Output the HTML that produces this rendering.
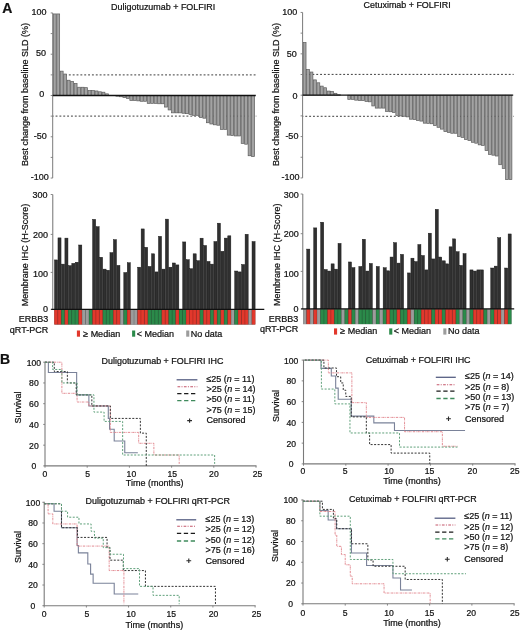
<!DOCTYPE html>
<html><head><meta charset="utf-8"><title>Figure</title>
<style>html,body{margin:0;padding:0;background:#fff;}svg{display:block;filter:blur(0.35px);}svg text{fill:#111;stroke:#111;stroke-width:0.22px;}text{font-family:"Liberation Sans",sans-serif;}</style></head><body>
<svg width="520" height="631" viewBox="0 0 520 631" font-family="Liberation Sans, sans-serif" font-size="9" fill="#2a2a2a">
<rect width="520" height="631" fill="#fff"/>
<text x="2.2" y="13.3" font-size="14" font-weight="bold" fill="#111">A</text>
<text x="0" y="363.5" font-size="14" font-weight="bold" fill="#111">B</text>
<text x="111.1" y="10" font-size="8.95">Duligotuzumab + FOLFIRI</text>
<text x="363.6" y="7.5" font-size="8.93">Cetuximab + FOLFIRI</text>
<text transform="translate(28,94.5) rotate(-90)" text-anchor="middle">Best change from baseline SLD (%)</text>
<text transform="translate(278.6,94.5) rotate(-90)" text-anchor="middle">Best change from baseline SLD (%)</text>
<line x1="52.7" y1="74.9" x2="256.3" y2="74.9" stroke="#333" stroke-width="0.95" stroke-dasharray="1.9,1.95" stroke-dashoffset="-0.75"/>
<line x1="52.7" y1="116.1" x2="256.3" y2="116.1" stroke="#333" stroke-width="0.95" stroke-dasharray="1.9,1.95" stroke-dashoffset="0.97"/>
<rect x="53.3" y="13.94" width="2.88" height="81.56" fill="#a3a3a3" stroke="#5c5c5c" stroke-width="0.7"/>
<rect x="56.78" y="13.94" width="2.88" height="81.56" fill="#a3a3a3" stroke="#5c5c5c" stroke-width="0.7"/>
<rect x="60.26" y="71.15" width="2.88" height="24.35" fill="#a3a3a3" stroke="#5c5c5c" stroke-width="0.7"/>
<rect x="63.74" y="74.04" width="2.88" height="21.46" fill="#a3a3a3" stroke="#5c5c5c" stroke-width="0.7"/>
<rect x="67.22" y="80.23" width="2.88" height="15.27" fill="#a3a3a3" stroke="#5c5c5c" stroke-width="0.7"/>
<rect x="70.7" y="81.47" width="2.88" height="14.03" fill="#a3a3a3" stroke="#5c5c5c" stroke-width="0.7"/>
<rect x="74.18" y="83.53" width="2.88" height="11.97" fill="#a3a3a3" stroke="#5c5c5c" stroke-width="0.7"/>
<rect x="77.66" y="87.25" width="2.88" height="8.26" fill="#a3a3a3" stroke="#5c5c5c" stroke-width="0.7"/>
<rect x="81.13" y="87.25" width="2.88" height="8.26" fill="#a3a3a3" stroke="#5c5c5c" stroke-width="0.7"/>
<rect x="84.61" y="87.66" width="2.88" height="7.84" fill="#a3a3a3" stroke="#5c5c5c" stroke-width="0.7"/>
<rect x="88.09" y="90.55" width="2.88" height="4.95" fill="#a3a3a3" stroke="#5c5c5c" stroke-width="0.7"/>
<rect x="91.57" y="90.55" width="2.88" height="4.95" fill="#a3a3a3" stroke="#5c5c5c" stroke-width="0.7"/>
<rect x="95.05" y="90.96" width="2.88" height="4.54" fill="#a3a3a3" stroke="#5c5c5c" stroke-width="0.7"/>
<rect x="98.53" y="91.79" width="2.88" height="3.71" fill="#a3a3a3" stroke="#5c5c5c" stroke-width="0.7"/>
<rect x="102.01" y="92.2" width="2.88" height="3.3" fill="#a3a3a3" stroke="#5c5c5c" stroke-width="0.7"/>
<rect x="105.49" y="93.85" width="2.88" height="1.65" fill="#a3a3a3" stroke="#5c5c5c" stroke-width="0.7"/>
<rect x="115.93" y="95.5" width="2.88" height="0.66" fill="#a3a3a3" stroke="#5c5c5c" stroke-width="0.7"/>
<rect x="119.41" y="95.5" width="2.88" height="1.24" fill="#a3a3a3" stroke="#5c5c5c" stroke-width="0.7"/>
<rect x="122.89" y="95.5" width="2.88" height="2.06" fill="#a3a3a3" stroke="#5c5c5c" stroke-width="0.7"/>
<rect x="126.37" y="95.5" width="2.88" height="2.89" fill="#a3a3a3" stroke="#5c5c5c" stroke-width="0.7"/>
<rect x="129.84" y="95.5" width="2.88" height="4.95" fill="#a3a3a3" stroke="#5c5c5c" stroke-width="0.7"/>
<rect x="133.32" y="95.5" width="2.88" height="4.95" fill="#a3a3a3" stroke="#5c5c5c" stroke-width="0.7"/>
<rect x="136.8" y="95.5" width="2.88" height="5.37" fill="#a3a3a3" stroke="#5c5c5c" stroke-width="0.7"/>
<rect x="140.28" y="95.5" width="2.88" height="5.78" fill="#a3a3a3" stroke="#5c5c5c" stroke-width="0.7"/>
<rect x="143.76" y="95.5" width="2.88" height="5.78" fill="#a3a3a3" stroke="#5c5c5c" stroke-width="0.7"/>
<rect x="147.24" y="95.5" width="2.88" height="7.84" fill="#a3a3a3" stroke="#5c5c5c" stroke-width="0.7"/>
<rect x="150.72" y="95.5" width="2.88" height="7.84" fill="#a3a3a3" stroke="#5c5c5c" stroke-width="0.7"/>
<rect x="154.2" y="95.5" width="2.88" height="7.84" fill="#a3a3a3" stroke="#5c5c5c" stroke-width="0.7"/>
<rect x="157.68" y="95.5" width="2.88" height="8.26" fill="#a3a3a3" stroke="#5c5c5c" stroke-width="0.7"/>
<rect x="161.16" y="95.5" width="2.88" height="8.26" fill="#a3a3a3" stroke="#5c5c5c" stroke-width="0.7"/>
<rect x="164.64" y="95.5" width="2.88" height="11.56" fill="#a3a3a3" stroke="#5c5c5c" stroke-width="0.7"/>
<rect x="168.12" y="95.5" width="2.88" height="14.45" fill="#a3a3a3" stroke="#5c5c5c" stroke-width="0.7"/>
<rect x="171.6" y="95.5" width="2.88" height="17.34" fill="#a3a3a3" stroke="#5c5c5c" stroke-width="0.7"/>
<rect x="175.08" y="95.5" width="2.88" height="17.34" fill="#a3a3a3" stroke="#5c5c5c" stroke-width="0.7"/>
<rect x="178.56" y="95.5" width="2.88" height="17.34" fill="#a3a3a3" stroke="#5c5c5c" stroke-width="0.7"/>
<rect x="182.03" y="95.5" width="2.88" height="17.75" fill="#a3a3a3" stroke="#5c5c5c" stroke-width="0.7"/>
<rect x="185.51" y="95.5" width="2.88" height="18.16" fill="#a3a3a3" stroke="#5c5c5c" stroke-width="0.7"/>
<rect x="188.99" y="95.5" width="2.88" height="18.99" fill="#a3a3a3" stroke="#5c5c5c" stroke-width="0.7"/>
<rect x="192.47" y="95.5" width="2.88" height="19.81" fill="#a3a3a3" stroke="#5c5c5c" stroke-width="0.7"/>
<rect x="195.95" y="95.5" width="2.88" height="19.81" fill="#a3a3a3" stroke="#5c5c5c" stroke-width="0.7"/>
<rect x="199.43" y="95.5" width="2.88" height="22.04" fill="#a3a3a3" stroke="#5c5c5c" stroke-width="0.7"/>
<rect x="202.91" y="95.5" width="2.88" height="22.7" fill="#a3a3a3" stroke="#5c5c5c" stroke-width="0.7"/>
<rect x="206.39" y="95.5" width="2.88" height="27.24" fill="#a3a3a3" stroke="#5c5c5c" stroke-width="0.7"/>
<rect x="209.87" y="95.5" width="2.88" height="28.48" fill="#a3a3a3" stroke="#5c5c5c" stroke-width="0.7"/>
<rect x="213.35" y="95.5" width="2.88" height="29.31" fill="#a3a3a3" stroke="#5c5c5c" stroke-width="0.7"/>
<rect x="216.83" y="95.5" width="2.88" height="29.72" fill="#a3a3a3" stroke="#5c5c5c" stroke-width="0.7"/>
<rect x="220.31" y="95.5" width="2.88" height="33.85" fill="#a3a3a3" stroke="#5c5c5c" stroke-width="0.7"/>
<rect x="223.79" y="95.5" width="2.88" height="33.85" fill="#a3a3a3" stroke="#5c5c5c" stroke-width="0.7"/>
<rect x="227.27" y="95.5" width="2.88" height="39.62" fill="#a3a3a3" stroke="#5c5c5c" stroke-width="0.7"/>
<rect x="230.74" y="95.5" width="2.88" height="40.04" fill="#a3a3a3" stroke="#5c5c5c" stroke-width="0.7"/>
<rect x="234.22" y="95.5" width="2.88" height="40.45" fill="#a3a3a3" stroke="#5c5c5c" stroke-width="0.7"/>
<rect x="237.7" y="95.5" width="2.88" height="40.45" fill="#a3a3a3" stroke="#5c5c5c" stroke-width="0.7"/>
<rect x="241.18" y="95.5" width="2.88" height="47.88" fill="#a3a3a3" stroke="#5c5c5c" stroke-width="0.7"/>
<rect x="244.66" y="95.5" width="2.88" height="48.7" fill="#a3a3a3" stroke="#5c5c5c" stroke-width="0.7"/>
<rect x="248.14" y="95.5" width="2.88" height="60.26" fill="#a3a3a3" stroke="#5c5c5c" stroke-width="0.7"/>
<rect x="251.62" y="95.5" width="2.88" height="61.09" fill="#a3a3a3" stroke="#5c5c5c" stroke-width="0.7"/>
<line x1="52.7" y1="12.95" x2="52.7" y2="178.05" stroke="#7a7a7a" stroke-width="1"/>
<line x1="50.7" y1="12.95" x2="52.7" y2="12.95" stroke="#7a7a7a" stroke-width="0.9"/>
<line x1="50.7" y1="33.59" x2="52.7" y2="33.59" stroke="#7a7a7a" stroke-width="0.9"/>
<line x1="50.7" y1="54.23" x2="52.7" y2="54.23" stroke="#7a7a7a" stroke-width="0.9"/>
<line x1="50.7" y1="74.86" x2="52.7" y2="74.86" stroke="#7a7a7a" stroke-width="0.9"/>
<line x1="50.7" y1="95.5" x2="52.7" y2="95.5" stroke="#7a7a7a" stroke-width="0.9"/>
<line x1="50.7" y1="116.14" x2="52.7" y2="116.14" stroke="#7a7a7a" stroke-width="0.9"/>
<line x1="50.7" y1="136.78" x2="52.7" y2="136.78" stroke="#7a7a7a" stroke-width="0.9"/>
<line x1="50.7" y1="157.41" x2="52.7" y2="157.41" stroke="#7a7a7a" stroke-width="0.9"/>
<line x1="50.7" y1="178.05" x2="52.7" y2="178.05" stroke="#7a7a7a" stroke-width="0.9"/>
<text x="46.5" y="14.7" text-anchor="end">100</text>
<text x="46.1" y="56.1" text-anchor="end">50</text>
<text x="44.2" y="97.2" text-anchor="end">0</text>
<text x="46.8" y="139.2" text-anchor="end">-50</text>
<text x="48.8" y="180.3" text-anchor="end">-100</text>
<line x1="52.7" y1="95.5" x2="255.8" y2="95.5" stroke="#111" stroke-width="1.3"/>
<line x1="302.6" y1="74.4" x2="513.7" y2="74.4" stroke="#333" stroke-width="0.95" stroke-dasharray="1.9,1.95" stroke-dashoffset="1.75"/>
<line x1="302.6" y1="116.3" x2="513.7" y2="116.3" stroke="#333" stroke-width="0.95" stroke-dasharray="1.9,1.95" stroke-dashoffset="1.15"/>
<rect x="303.2" y="42.57" width="2.83" height="52.63" fill="#a3a3a3" stroke="#5c5c5c" stroke-width="0.7"/>
<rect x="306.63" y="69.55" width="2.83" height="25.65" fill="#a3a3a3" stroke="#5c5c5c" stroke-width="0.7"/>
<rect x="310.06" y="72.03" width="2.83" height="23.17" fill="#a3a3a3" stroke="#5c5c5c" stroke-width="0.7"/>
<rect x="313.49" y="79.89" width="2.83" height="15.31" fill="#a3a3a3" stroke="#5c5c5c" stroke-width="0.7"/>
<rect x="316.92" y="82.79" width="2.83" height="12.41" fill="#a3a3a3" stroke="#5c5c5c" stroke-width="0.7"/>
<rect x="320.36" y="86.1" width="2.83" height="9.1" fill="#a3a3a3" stroke="#5c5c5c" stroke-width="0.7"/>
<rect x="323.79" y="87.75" width="2.83" height="7.45" fill="#a3a3a3" stroke="#5c5c5c" stroke-width="0.7"/>
<rect x="327.22" y="91.06" width="2.83" height="4.14" fill="#a3a3a3" stroke="#5c5c5c" stroke-width="0.7"/>
<rect x="330.65" y="91.48" width="2.83" height="3.72" fill="#a3a3a3" stroke="#5c5c5c" stroke-width="0.7"/>
<rect x="334.08" y="93.3" width="2.83" height="1.9" fill="#a3a3a3" stroke="#5c5c5c" stroke-width="0.7"/>
<rect x="337.51" y="94.7" width="2.83" height="0.5" fill="#a3a3a3" stroke="#5c5c5c" stroke-width="0.7"/>
<rect x="347.8" y="95.2" width="2.83" height="4.14" fill="#a3a3a3" stroke="#5c5c5c" stroke-width="0.7"/>
<rect x="351.24" y="95.2" width="2.83" height="4.14" fill="#a3a3a3" stroke="#5c5c5c" stroke-width="0.7"/>
<rect x="354.67" y="95.2" width="2.83" height="4.96" fill="#a3a3a3" stroke="#5c5c5c" stroke-width="0.7"/>
<rect x="358.1" y="95.2" width="2.83" height="5.38" fill="#a3a3a3" stroke="#5c5c5c" stroke-width="0.7"/>
<rect x="361.53" y="95.2" width="2.83" height="5.38" fill="#a3a3a3" stroke="#5c5c5c" stroke-width="0.7"/>
<rect x="364.96" y="95.2" width="2.83" height="6.21" fill="#a3a3a3" stroke="#5c5c5c" stroke-width="0.7"/>
<rect x="368.39" y="95.2" width="2.83" height="6.62" fill="#a3a3a3" stroke="#5c5c5c" stroke-width="0.7"/>
<rect x="371.82" y="95.2" width="2.83" height="10.76" fill="#a3a3a3" stroke="#5c5c5c" stroke-width="0.7"/>
<rect x="375.25" y="95.2" width="2.83" height="12.91" fill="#a3a3a3" stroke="#5c5c5c" stroke-width="0.7"/>
<rect x="378.69" y="95.2" width="2.83" height="12.91" fill="#a3a3a3" stroke="#5c5c5c" stroke-width="0.7"/>
<rect x="382.12" y="95.2" width="2.83" height="12.91" fill="#a3a3a3" stroke="#5c5c5c" stroke-width="0.7"/>
<rect x="385.55" y="95.2" width="2.83" height="16.22" fill="#a3a3a3" stroke="#5c5c5c" stroke-width="0.7"/>
<rect x="388.98" y="95.2" width="2.83" height="16.55" fill="#a3a3a3" stroke="#5c5c5c" stroke-width="0.7"/>
<rect x="392.41" y="95.2" width="2.83" height="17.38" fill="#a3a3a3" stroke="#5c5c5c" stroke-width="0.7"/>
<rect x="395.84" y="95.2" width="2.83" height="20.36" fill="#a3a3a3" stroke="#5c5c5c" stroke-width="0.7"/>
<rect x="399.27" y="95.2" width="2.83" height="20.69" fill="#a3a3a3" stroke="#5c5c5c" stroke-width="0.7"/>
<rect x="402.7" y="95.2" width="2.83" height="21.02" fill="#a3a3a3" stroke="#5c5c5c" stroke-width="0.7"/>
<rect x="406.13" y="95.2" width="2.83" height="21.68" fill="#a3a3a3" stroke="#5c5c5c" stroke-width="0.7"/>
<rect x="409.57" y="95.2" width="2.83" height="24" fill="#a3a3a3" stroke="#5c5c5c" stroke-width="0.7"/>
<rect x="413" y="95.2" width="2.83" height="24.41" fill="#a3a3a3" stroke="#5c5c5c" stroke-width="0.7"/>
<rect x="416.43" y="95.2" width="2.83" height="25.24" fill="#a3a3a3" stroke="#5c5c5c" stroke-width="0.7"/>
<rect x="419.86" y="95.2" width="2.83" height="25.9" fill="#a3a3a3" stroke="#5c5c5c" stroke-width="0.7"/>
<rect x="423.29" y="95.2" width="2.83" height="27.97" fill="#a3a3a3" stroke="#5c5c5c" stroke-width="0.7"/>
<rect x="426.72" y="95.2" width="2.83" height="28.14" fill="#a3a3a3" stroke="#5c5c5c" stroke-width="0.7"/>
<rect x="430.15" y="95.2" width="2.83" height="28.55" fill="#a3a3a3" stroke="#5c5c5c" stroke-width="0.7"/>
<rect x="433.58" y="95.2" width="2.83" height="30.29" fill="#a3a3a3" stroke="#5c5c5c" stroke-width="0.7"/>
<rect x="437.01" y="95.2" width="2.83" height="32.11" fill="#a3a3a3" stroke="#5c5c5c" stroke-width="0.7"/>
<rect x="440.45" y="95.2" width="2.83" height="33.93" fill="#a3a3a3" stroke="#5c5c5c" stroke-width="0.7"/>
<rect x="443.88" y="95.2" width="2.83" height="36.41" fill="#a3a3a3" stroke="#5c5c5c" stroke-width="0.7"/>
<rect x="447.31" y="95.2" width="2.83" height="37.24" fill="#a3a3a3" stroke="#5c5c5c" stroke-width="0.7"/>
<rect x="450.74" y="95.2" width="2.83" height="38.06" fill="#a3a3a3" stroke="#5c5c5c" stroke-width="0.7"/>
<rect x="454.17" y="95.2" width="2.83" height="38.06" fill="#a3a3a3" stroke="#5c5c5c" stroke-width="0.7"/>
<rect x="457.6" y="95.2" width="2.83" height="41.38" fill="#a3a3a3" stroke="#5c5c5c" stroke-width="0.7"/>
<rect x="461.03" y="95.2" width="2.83" height="42.2" fill="#a3a3a3" stroke="#5c5c5c" stroke-width="0.7"/>
<rect x="464.46" y="95.2" width="2.83" height="44.27" fill="#a3a3a3" stroke="#5c5c5c" stroke-width="0.7"/>
<rect x="467.9" y="95.2" width="2.83" height="45.35" fill="#a3a3a3" stroke="#5c5c5c" stroke-width="0.7"/>
<rect x="471.33" y="95.2" width="2.83" height="47.08" fill="#a3a3a3" stroke="#5c5c5c" stroke-width="0.7"/>
<rect x="474.76" y="95.2" width="2.83" height="47.99" fill="#a3a3a3" stroke="#5c5c5c" stroke-width="0.7"/>
<rect x="478.19" y="95.2" width="2.83" height="49.65" fill="#a3a3a3" stroke="#5c5c5c" stroke-width="0.7"/>
<rect x="481.62" y="95.2" width="2.83" height="50.23" fill="#a3a3a3" stroke="#5c5c5c" stroke-width="0.7"/>
<rect x="485.05" y="95.2" width="2.83" height="55.44" fill="#a3a3a3" stroke="#5c5c5c" stroke-width="0.7"/>
<rect x="488.48" y="95.2" width="2.83" height="59.17" fill="#a3a3a3" stroke="#5c5c5c" stroke-width="0.7"/>
<rect x="491.91" y="95.2" width="2.83" height="59.99" fill="#a3a3a3" stroke="#5c5c5c" stroke-width="0.7"/>
<rect x="495.34" y="95.2" width="2.83" height="60.82" fill="#a3a3a3" stroke="#5c5c5c" stroke-width="0.7"/>
<rect x="498.78" y="95.2" width="2.83" height="69.51" fill="#a3a3a3" stroke="#5c5c5c" stroke-width="0.7"/>
<rect x="502.21" y="95.2" width="2.83" height="73.23" fill="#a3a3a3" stroke="#5c5c5c" stroke-width="0.7"/>
<rect x="505.64" y="95.2" width="2.83" height="84.41" fill="#a3a3a3" stroke="#5c5c5c" stroke-width="0.7"/>
<rect x="509.07" y="95.2" width="2.83" height="84.41" fill="#a3a3a3" stroke="#5c5c5c" stroke-width="0.7"/>
<line x1="302.6" y1="12.45" x2="302.6" y2="177.95" stroke="#7a7a7a" stroke-width="1"/>
<line x1="300.6" y1="12.45" x2="302.6" y2="12.45" stroke="#7a7a7a" stroke-width="0.9"/>
<line x1="300.6" y1="33.14" x2="302.6" y2="33.14" stroke="#7a7a7a" stroke-width="0.9"/>
<line x1="300.6" y1="53.83" x2="302.6" y2="53.83" stroke="#7a7a7a" stroke-width="0.9"/>
<line x1="300.6" y1="74.51" x2="302.6" y2="74.51" stroke="#7a7a7a" stroke-width="0.9"/>
<line x1="300.6" y1="95.2" x2="302.6" y2="95.2" stroke="#7a7a7a" stroke-width="0.9"/>
<line x1="300.6" y1="115.89" x2="302.6" y2="115.89" stroke="#7a7a7a" stroke-width="0.9"/>
<line x1="300.6" y1="136.57" x2="302.6" y2="136.57" stroke="#7a7a7a" stroke-width="0.9"/>
<line x1="300.6" y1="157.26" x2="302.6" y2="157.26" stroke="#7a7a7a" stroke-width="0.9"/>
<line x1="300.6" y1="177.95" x2="302.6" y2="177.95" stroke="#7a7a7a" stroke-width="0.9"/>
<text x="297.2" y="14.7" text-anchor="end">100</text>
<text x="296.8" y="56.6" text-anchor="end">50</text>
<text x="297.6" y="98.7" text-anchor="end">0</text>
<text x="298.4" y="139.4" text-anchor="end">-50</text>
<text x="299.5" y="180.3" text-anchor="end">-100</text>
<line x1="302.6" y1="95.2" x2="513.2" y2="95.2" stroke="#111" stroke-width="1.3"/>
<text transform="translate(28,255) rotate(-90)" text-anchor="middle">Membrane IHC (H-Score)</text>
<text transform="translate(280.4,254.7) rotate(-90)" text-anchor="middle">Membrane IHC (H-Score)</text>
<rect x="54.5" y="259.93" width="3.07" height="49.37" fill="#303030" stroke="#141414" stroke-width="0.45"/>
<rect x="57.97" y="237.89" width="3.07" height="71.41" fill="#303030" stroke="#141414" stroke-width="0.45"/>
<rect x="61.43" y="264.14" width="3.07" height="45.16" fill="#303030" stroke="#141414" stroke-width="0.45"/>
<rect x="64.9" y="238.12" width="3.07" height="71.18" fill="#303030" stroke="#141414" stroke-width="0.45"/>
<rect x="68.36" y="265.67" width="3.07" height="43.63" fill="#303030" stroke="#141414" stroke-width="0.45"/>
<rect x="71.83" y="263.38" width="3.07" height="45.92" fill="#303030" stroke="#141414" stroke-width="0.45"/>
<rect x="75.29" y="262.23" width="3.07" height="47.07" fill="#303030" stroke="#141414" stroke-width="0.45"/>
<rect x="78.76" y="245.01" width="3.07" height="64.29" fill="#303030" stroke="#141414" stroke-width="0.45"/>
<rect x="92.62" y="219.37" width="3.07" height="89.93" fill="#303030" stroke="#141414" stroke-width="0.45"/>
<rect x="96.09" y="226.71" width="3.07" height="82.59" fill="#303030" stroke="#141414" stroke-width="0.45"/>
<rect x="99.55" y="257.25" width="3.07" height="52.05" fill="#303030" stroke="#141414" stroke-width="0.45"/>
<rect x="103.02" y="269.12" width="3.07" height="40.18" fill="#303030" stroke="#141414" stroke-width="0.45"/>
<rect x="106.48" y="270.26" width="3.07" height="39.04" fill="#303030" stroke="#141414" stroke-width="0.45"/>
<rect x="109.95" y="252.66" width="3.07" height="56.64" fill="#303030" stroke="#141414" stroke-width="0.45"/>
<rect x="113.41" y="239.65" width="3.07" height="69.65" fill="#303030" stroke="#141414" stroke-width="0.45"/>
<rect x="116.88" y="265.4" width="3.07" height="43.9" fill="#303030" stroke="#141414" stroke-width="0.45"/>
<rect x="123.81" y="272.56" width="3.07" height="36.74" fill="#303030" stroke="#141414" stroke-width="0.45"/>
<rect x="127.28" y="262.76" width="3.07" height="46.54" fill="#303030" stroke="#141414" stroke-width="0.45"/>
<rect x="137.67" y="267.2" width="3.07" height="42.1" fill="#303030" stroke="#141414" stroke-width="0.45"/>
<rect x="141.14" y="228.93" width="3.07" height="80.37" fill="#303030" stroke="#141414" stroke-width="0.45"/>
<rect x="144.6" y="247.3" width="3.07" height="62" fill="#303030" stroke="#141414" stroke-width="0.45"/>
<rect x="148.07" y="266.44" width="3.07" height="42.86" fill="#303030" stroke="#141414" stroke-width="0.45"/>
<rect x="151.53" y="253.81" width="3.07" height="55.49" fill="#303030" stroke="#141414" stroke-width="0.45"/>
<rect x="155" y="271.91" width="3.07" height="37.39" fill="#303030" stroke="#141414" stroke-width="0.45"/>
<rect x="158.47" y="236.36" width="3.07" height="72.94" fill="#303030" stroke="#141414" stroke-width="0.45"/>
<rect x="161.93" y="269.12" width="3.07" height="40.18" fill="#303030" stroke="#141414" stroke-width="0.45"/>
<rect x="165.4" y="219.14" width="3.07" height="90.16" fill="#303030" stroke="#141414" stroke-width="0.45"/>
<rect x="168.86" y="267.2" width="3.07" height="42.1" fill="#303030" stroke="#141414" stroke-width="0.45"/>
<rect x="172.33" y="262.99" width="3.07" height="46.31" fill="#303030" stroke="#141414" stroke-width="0.45"/>
<rect x="175.79" y="264.91" width="3.07" height="44.39" fill="#303030" stroke="#141414" stroke-width="0.45"/>
<rect x="182.72" y="241.94" width="3.07" height="67.36" fill="#303030" stroke="#141414" stroke-width="0.45"/>
<rect x="186.19" y="259.7" width="3.07" height="49.6" fill="#303030" stroke="#141414" stroke-width="0.45"/>
<rect x="189.66" y="268.73" width="3.07" height="40.57" fill="#303030" stroke="#141414" stroke-width="0.45"/>
<rect x="193.12" y="253.81" width="3.07" height="55.49" fill="#303030" stroke="#141414" stroke-width="0.45"/>
<rect x="196.59" y="260.7" width="3.07" height="48.6" fill="#303030" stroke="#141414" stroke-width="0.45"/>
<rect x="200.05" y="238.19" width="3.07" height="71.11" fill="#303030" stroke="#141414" stroke-width="0.45"/>
<rect x="203.52" y="245.5" width="3.07" height="63.8" fill="#303030" stroke="#141414" stroke-width="0.45"/>
<rect x="206.98" y="261.46" width="3.07" height="47.84" fill="#303030" stroke="#141414" stroke-width="0.45"/>
<rect x="210.45" y="264.14" width="3.07" height="45.16" fill="#303030" stroke="#141414" stroke-width="0.45"/>
<rect x="213.91" y="241.56" width="3.07" height="67.74" fill="#303030" stroke="#141414" stroke-width="0.45"/>
<rect x="217.38" y="223.19" width="3.07" height="86.11" fill="#303030" stroke="#141414" stroke-width="0.45"/>
<rect x="220.84" y="251.32" width="3.07" height="57.98" fill="#303030" stroke="#141414" stroke-width="0.45"/>
<rect x="224.31" y="238.12" width="3.07" height="71.18" fill="#303030" stroke="#141414" stroke-width="0.45"/>
<rect x="227.78" y="235.82" width="3.07" height="73.48" fill="#303030" stroke="#141414" stroke-width="0.45"/>
<rect x="234.71" y="271.03" width="3.07" height="38.27" fill="#303030" stroke="#141414" stroke-width="0.45"/>
<rect x="238.17" y="271.91" width="3.07" height="37.39" fill="#303030" stroke="#141414" stroke-width="0.45"/>
<rect x="241.64" y="264.52" width="3.07" height="44.78" fill="#303030" stroke="#141414" stroke-width="0.45"/>
<rect x="245.1" y="234.29" width="3.07" height="75.01" fill="#303030" stroke="#141414" stroke-width="0.45"/>
<rect x="252.03" y="241.56" width="3.07" height="67.74" fill="#303030" stroke="#141414" stroke-width="0.45"/>
<rect x="54.3" y="309.7" width="201" height="14.8" fill="#444"/>
<rect x="54.3" y="309.7" width="3.52" height="14.8" fill="#e2382c"/>
<rect x="57.77" y="309.7" width="3.52" height="14.8" fill="#e2382c"/>
<rect x="61.23" y="309.7" width="3.52" height="14.8" fill="#2b8a4a"/>
<rect x="64.7" y="309.7" width="3.52" height="14.8" fill="#e2382c"/>
<rect x="68.16" y="309.7" width="3.52" height="14.8" fill="#2b8a4a"/>
<rect x="71.63" y="309.7" width="3.52" height="14.8" fill="#2b8a4a"/>
<rect x="75.09" y="309.7" width="3.52" height="14.8" fill="#2b8a4a"/>
<rect x="78.56" y="309.7" width="3.52" height="14.8" fill="#e2382c"/>
<rect x="82.02" y="309.7" width="3.52" height="14.8" fill="#9c9c9c"/>
<rect x="85.49" y="309.7" width="3.52" height="14.8" fill="#9c9c9c"/>
<rect x="88.96" y="309.7" width="3.52" height="14.8" fill="#2b8a4a"/>
<rect x="92.42" y="309.7" width="3.52" height="14.8" fill="#e2382c"/>
<rect x="95.89" y="309.7" width="3.52" height="14.8" fill="#e2382c"/>
<rect x="99.35" y="309.7" width="3.52" height="14.8" fill="#e2382c"/>
<rect x="102.82" y="309.7" width="3.52" height="14.8" fill="#2b8a4a"/>
<rect x="106.28" y="309.7" width="3.52" height="14.8" fill="#2b8a4a"/>
<rect x="109.75" y="309.7" width="3.52" height="14.8" fill="#2b8a4a"/>
<rect x="113.21" y="309.7" width="3.52" height="14.8" fill="#e2382c"/>
<rect x="116.68" y="309.7" width="3.52" height="14.8" fill="#e2382c"/>
<rect x="120.14" y="309.7" width="3.52" height="14.8" fill="#9c9c9c"/>
<rect x="123.61" y="309.7" width="3.52" height="14.8" fill="#2b8a4a"/>
<rect x="127.08" y="309.7" width="3.52" height="14.8" fill="#e2382c"/>
<rect x="130.54" y="309.7" width="3.52" height="14.8" fill="#9c9c9c"/>
<rect x="134.01" y="309.7" width="3.52" height="14.8" fill="#9c9c9c"/>
<rect x="137.47" y="309.7" width="3.52" height="14.8" fill="#e2382c"/>
<rect x="140.94" y="309.7" width="3.52" height="14.8" fill="#e2382c"/>
<rect x="144.4" y="309.7" width="3.52" height="14.8" fill="#e2382c"/>
<rect x="147.87" y="309.7" width="3.52" height="14.8" fill="#2b8a4a"/>
<rect x="151.33" y="309.7" width="3.52" height="14.8" fill="#2b8a4a"/>
<rect x="154.8" y="309.7" width="3.52" height="14.8" fill="#2b8a4a"/>
<rect x="158.27" y="309.7" width="3.52" height="14.8" fill="#2b8a4a"/>
<rect x="161.73" y="309.7" width="3.52" height="14.8" fill="#e2382c"/>
<rect x="165.2" y="309.7" width="3.52" height="14.8" fill="#e2382c"/>
<rect x="168.66" y="309.7" width="3.52" height="14.8" fill="#2b8a4a"/>
<rect x="172.13" y="309.7" width="3.52" height="14.8" fill="#2b8a4a"/>
<rect x="175.59" y="309.7" width="3.52" height="14.8" fill="#e2382c"/>
<rect x="179.06" y="309.7" width="3.52" height="14.8" fill="#2b8a4a"/>
<rect x="182.52" y="309.7" width="3.52" height="14.8" fill="#2b8a4a"/>
<rect x="185.99" y="309.7" width="3.52" height="14.8" fill="#e2382c"/>
<rect x="189.46" y="309.7" width="3.52" height="14.8" fill="#e2382c"/>
<rect x="192.92" y="309.7" width="3.52" height="14.8" fill="#e2382c"/>
<rect x="196.39" y="309.7" width="3.52" height="14.8" fill="#e2382c"/>
<rect x="199.85" y="309.7" width="3.52" height="14.8" fill="#2b8a4a"/>
<rect x="203.32" y="309.7" width="3.52" height="14.8" fill="#e2382c"/>
<rect x="206.78" y="309.7" width="3.52" height="14.8" fill="#e2382c"/>
<rect x="210.25" y="309.7" width="3.52" height="14.8" fill="#2b8a4a"/>
<rect x="213.71" y="309.7" width="3.52" height="14.8" fill="#e2382c"/>
<rect x="217.18" y="309.7" width="3.52" height="14.8" fill="#2b8a4a"/>
<rect x="220.64" y="309.7" width="3.52" height="14.8" fill="#e2382c"/>
<rect x="224.11" y="309.7" width="3.52" height="14.8" fill="#2b8a4a"/>
<rect x="227.58" y="309.7" width="3.52" height="14.8" fill="#e2382c"/>
<rect x="231.04" y="309.7" width="3.52" height="14.8" fill="#9c9c9c"/>
<rect x="234.51" y="309.7" width="3.52" height="14.8" fill="#2b8a4a"/>
<rect x="237.97" y="309.7" width="3.52" height="14.8" fill="#e2382c"/>
<rect x="241.44" y="309.7" width="3.52" height="14.8" fill="#e2382c"/>
<rect x="244.9" y="309.7" width="3.52" height="14.8" fill="#e2382c"/>
<rect x="248.37" y="309.7" width="3.52" height="14.8" fill="#9c9c9c"/>
<rect x="251.83" y="309.7" width="3.52" height="14.8" fill="#e2382c"/>
<line x1="57.77" y1="309.7" x2="57.77" y2="324.5" stroke="#000" stroke-opacity="0.3" stroke-width="0.55"/>
<line x1="61.23" y1="309.7" x2="61.23" y2="324.5" stroke="#000" stroke-opacity="0.3" stroke-width="0.55"/>
<line x1="64.7" y1="309.7" x2="64.7" y2="324.5" stroke="#000" stroke-opacity="0.3" stroke-width="0.55"/>
<line x1="68.16" y1="309.7" x2="68.16" y2="324.5" stroke="#000" stroke-opacity="0.3" stroke-width="0.55"/>
<line x1="71.63" y1="309.7" x2="71.63" y2="324.5" stroke="#000" stroke-opacity="0.3" stroke-width="0.55"/>
<line x1="75.09" y1="309.7" x2="75.09" y2="324.5" stroke="#000" stroke-opacity="0.3" stroke-width="0.55"/>
<line x1="78.56" y1="309.7" x2="78.56" y2="324.5" stroke="#000" stroke-opacity="0.3" stroke-width="0.55"/>
<line x1="82.02" y1="309.7" x2="82.02" y2="324.5" stroke="#000" stroke-opacity="0.3" stroke-width="0.55"/>
<line x1="85.49" y1="309.7" x2="85.49" y2="324.5" stroke="#000" stroke-opacity="0.3" stroke-width="0.55"/>
<line x1="88.96" y1="309.7" x2="88.96" y2="324.5" stroke="#000" stroke-opacity="0.3" stroke-width="0.55"/>
<line x1="92.42" y1="309.7" x2="92.42" y2="324.5" stroke="#000" stroke-opacity="0.3" stroke-width="0.55"/>
<line x1="95.89" y1="309.7" x2="95.89" y2="324.5" stroke="#000" stroke-opacity="0.3" stroke-width="0.55"/>
<line x1="99.35" y1="309.7" x2="99.35" y2="324.5" stroke="#000" stroke-opacity="0.3" stroke-width="0.55"/>
<line x1="102.82" y1="309.7" x2="102.82" y2="324.5" stroke="#000" stroke-opacity="0.3" stroke-width="0.55"/>
<line x1="106.28" y1="309.7" x2="106.28" y2="324.5" stroke="#000" stroke-opacity="0.3" stroke-width="0.55"/>
<line x1="109.75" y1="309.7" x2="109.75" y2="324.5" stroke="#000" stroke-opacity="0.3" stroke-width="0.55"/>
<line x1="113.21" y1="309.7" x2="113.21" y2="324.5" stroke="#000" stroke-opacity="0.3" stroke-width="0.55"/>
<line x1="116.68" y1="309.7" x2="116.68" y2="324.5" stroke="#000" stroke-opacity="0.3" stroke-width="0.55"/>
<line x1="120.14" y1="309.7" x2="120.14" y2="324.5" stroke="#000" stroke-opacity="0.3" stroke-width="0.55"/>
<line x1="123.61" y1="309.7" x2="123.61" y2="324.5" stroke="#000" stroke-opacity="0.3" stroke-width="0.55"/>
<line x1="127.08" y1="309.7" x2="127.08" y2="324.5" stroke="#000" stroke-opacity="0.3" stroke-width="0.55"/>
<line x1="130.54" y1="309.7" x2="130.54" y2="324.5" stroke="#000" stroke-opacity="0.3" stroke-width="0.55"/>
<line x1="134.01" y1="309.7" x2="134.01" y2="324.5" stroke="#000" stroke-opacity="0.3" stroke-width="0.55"/>
<line x1="137.47" y1="309.7" x2="137.47" y2="324.5" stroke="#000" stroke-opacity="0.3" stroke-width="0.55"/>
<line x1="140.94" y1="309.7" x2="140.94" y2="324.5" stroke="#000" stroke-opacity="0.3" stroke-width="0.55"/>
<line x1="144.4" y1="309.7" x2="144.4" y2="324.5" stroke="#000" stroke-opacity="0.3" stroke-width="0.55"/>
<line x1="147.87" y1="309.7" x2="147.87" y2="324.5" stroke="#000" stroke-opacity="0.3" stroke-width="0.55"/>
<line x1="151.33" y1="309.7" x2="151.33" y2="324.5" stroke="#000" stroke-opacity="0.3" stroke-width="0.55"/>
<line x1="154.8" y1="309.7" x2="154.8" y2="324.5" stroke="#000" stroke-opacity="0.3" stroke-width="0.55"/>
<line x1="158.27" y1="309.7" x2="158.27" y2="324.5" stroke="#000" stroke-opacity="0.3" stroke-width="0.55"/>
<line x1="161.73" y1="309.7" x2="161.73" y2="324.5" stroke="#000" stroke-opacity="0.3" stroke-width="0.55"/>
<line x1="165.2" y1="309.7" x2="165.2" y2="324.5" stroke="#000" stroke-opacity="0.3" stroke-width="0.55"/>
<line x1="168.66" y1="309.7" x2="168.66" y2="324.5" stroke="#000" stroke-opacity="0.3" stroke-width="0.55"/>
<line x1="172.13" y1="309.7" x2="172.13" y2="324.5" stroke="#000" stroke-opacity="0.3" stroke-width="0.55"/>
<line x1="175.59" y1="309.7" x2="175.59" y2="324.5" stroke="#000" stroke-opacity="0.3" stroke-width="0.55"/>
<line x1="179.06" y1="309.7" x2="179.06" y2="324.5" stroke="#000" stroke-opacity="0.3" stroke-width="0.55"/>
<line x1="182.52" y1="309.7" x2="182.52" y2="324.5" stroke="#000" stroke-opacity="0.3" stroke-width="0.55"/>
<line x1="185.99" y1="309.7" x2="185.99" y2="324.5" stroke="#000" stroke-opacity="0.3" stroke-width="0.55"/>
<line x1="189.46" y1="309.7" x2="189.46" y2="324.5" stroke="#000" stroke-opacity="0.3" stroke-width="0.55"/>
<line x1="192.92" y1="309.7" x2="192.92" y2="324.5" stroke="#000" stroke-opacity="0.3" stroke-width="0.55"/>
<line x1="196.39" y1="309.7" x2="196.39" y2="324.5" stroke="#000" stroke-opacity="0.3" stroke-width="0.55"/>
<line x1="199.85" y1="309.7" x2="199.85" y2="324.5" stroke="#000" stroke-opacity="0.3" stroke-width="0.55"/>
<line x1="203.32" y1="309.7" x2="203.32" y2="324.5" stroke="#000" stroke-opacity="0.3" stroke-width="0.55"/>
<line x1="206.78" y1="309.7" x2="206.78" y2="324.5" stroke="#000" stroke-opacity="0.3" stroke-width="0.55"/>
<line x1="210.25" y1="309.7" x2="210.25" y2="324.5" stroke="#000" stroke-opacity="0.3" stroke-width="0.55"/>
<line x1="213.71" y1="309.7" x2="213.71" y2="324.5" stroke="#000" stroke-opacity="0.3" stroke-width="0.55"/>
<line x1="217.18" y1="309.7" x2="217.18" y2="324.5" stroke="#000" stroke-opacity="0.3" stroke-width="0.55"/>
<line x1="220.64" y1="309.7" x2="220.64" y2="324.5" stroke="#000" stroke-opacity="0.3" stroke-width="0.55"/>
<line x1="224.11" y1="309.7" x2="224.11" y2="324.5" stroke="#000" stroke-opacity="0.3" stroke-width="0.55"/>
<line x1="227.58" y1="309.7" x2="227.58" y2="324.5" stroke="#000" stroke-opacity="0.3" stroke-width="0.55"/>
<line x1="231.04" y1="309.7" x2="231.04" y2="324.5" stroke="#000" stroke-opacity="0.3" stroke-width="0.55"/>
<line x1="234.51" y1="309.7" x2="234.51" y2="324.5" stroke="#000" stroke-opacity="0.3" stroke-width="0.55"/>
<line x1="237.97" y1="309.7" x2="237.97" y2="324.5" stroke="#000" stroke-opacity="0.3" stroke-width="0.55"/>
<line x1="241.44" y1="309.7" x2="241.44" y2="324.5" stroke="#000" stroke-opacity="0.3" stroke-width="0.55"/>
<line x1="244.9" y1="309.7" x2="244.9" y2="324.5" stroke="#000" stroke-opacity="0.3" stroke-width="0.55"/>
<line x1="248.37" y1="309.7" x2="248.37" y2="324.5" stroke="#000" stroke-opacity="0.3" stroke-width="0.55"/>
<line x1="251.83" y1="309.7" x2="251.83" y2="324.5" stroke="#000" stroke-opacity="0.3" stroke-width="0.55"/>
<line x1="52.7" y1="194.5" x2="52.7" y2="309.3" stroke="#9a9a9a" stroke-width="1.4"/>
<line x1="50.7" y1="309.4" x2="52.7" y2="309.4" stroke="#7a7a7a" stroke-width="0.9"/>
<line x1="50.7" y1="272.4" x2="52.7" y2="272.4" stroke="#7a7a7a" stroke-width="0.9"/>
<line x1="50.7" y1="234.4" x2="52.7" y2="234.4" stroke="#7a7a7a" stroke-width="0.9"/>
<line x1="50.7" y1="194.5" x2="52.7" y2="194.5" stroke="#7a7a7a" stroke-width="0.9"/>
<text x="47.5" y="197.9" text-anchor="end">300</text>
<text x="48" y="237.8" text-anchor="end">200</text>
<text x="48" y="277.1" text-anchor="end">100</text>
<text x="48" y="311.7" text-anchor="end">0</text>
<line x1="51.2" y1="309.3" x2="264.3" y2="309.3" stroke="#111" stroke-width="1.2"/>
<text x="48.2" y="322.1" text-anchor="end">ERBB3</text>
<text x="48.2" y="332.9" text-anchor="end">qRT-PCR</text>
<rect x="306.77" y="249.1" width="3.07" height="59.8" fill="#303030" stroke="#141414" stroke-width="0.45"/>
<rect x="313.72" y="227.9" width="3.07" height="81" fill="#303030" stroke="#141414" stroke-width="0.45"/>
<rect x="320.66" y="222.22" width="3.07" height="86.68" fill="#303030" stroke="#141414" stroke-width="0.45"/>
<rect x="324.13" y="269.54" width="3.07" height="39.36" fill="#303030" stroke="#141414" stroke-width="0.45"/>
<rect x="327.6" y="271.05" width="3.07" height="37.85" fill="#303030" stroke="#141414" stroke-width="0.45"/>
<rect x="331.07" y="263.86" width="3.07" height="45.04" fill="#303030" stroke="#141414" stroke-width="0.45"/>
<rect x="334.55" y="269.16" width="3.07" height="39.74" fill="#303030" stroke="#141414" stroke-width="0.45"/>
<rect x="338.02" y="243.42" width="3.07" height="65.48" fill="#303030" stroke="#141414" stroke-width="0.45"/>
<rect x="348.43" y="261.97" width="3.07" height="46.93" fill="#303030" stroke="#141414" stroke-width="0.45"/>
<rect x="351.9" y="267.64" width="3.07" height="41.26" fill="#303030" stroke="#141414" stroke-width="0.45"/>
<rect x="358.85" y="266.51" width="3.07" height="42.39" fill="#303030" stroke="#141414" stroke-width="0.45"/>
<rect x="362.32" y="239.26" width="3.07" height="69.64" fill="#303030" stroke="#141414" stroke-width="0.45"/>
<rect x="365.79" y="271.05" width="3.07" height="37.85" fill="#303030" stroke="#141414" stroke-width="0.45"/>
<rect x="369.26" y="263.48" width="3.07" height="45.42" fill="#303030" stroke="#141414" stroke-width="0.45"/>
<rect x="376.2" y="266.51" width="3.07" height="42.39" fill="#303030" stroke="#141414" stroke-width="0.45"/>
<rect x="383.15" y="267.76" width="3.07" height="41.14" fill="#303030" stroke="#141414" stroke-width="0.45"/>
<rect x="386.62" y="270.82" width="3.07" height="38.08" fill="#303030" stroke="#141414" stroke-width="0.45"/>
<rect x="390.09" y="257.05" width="3.07" height="51.85" fill="#303030" stroke="#141414" stroke-width="0.45"/>
<rect x="393.56" y="242.66" width="3.07" height="66.24" fill="#303030" stroke="#141414" stroke-width="0.45"/>
<rect x="397.03" y="263.1" width="3.07" height="45.8" fill="#303030" stroke="#141414" stroke-width="0.45"/>
<rect x="400.51" y="254.4" width="3.07" height="54.5" fill="#303030" stroke="#141414" stroke-width="0.45"/>
<rect x="407.45" y="272.94" width="3.07" height="35.96" fill="#303030" stroke="#141414" stroke-width="0.45"/>
<rect x="410.92" y="258.18" width="3.07" height="50.72" fill="#303030" stroke="#141414" stroke-width="0.45"/>
<rect x="414.39" y="261.59" width="3.07" height="47.31" fill="#303030" stroke="#141414" stroke-width="0.45"/>
<rect x="417.86" y="244.55" width="3.07" height="64.34" fill="#303030" stroke="#141414" stroke-width="0.45"/>
<rect x="421.34" y="255.53" width="3.07" height="53.37" fill="#303030" stroke="#141414" stroke-width="0.45"/>
<rect x="424.81" y="269.91" width="3.07" height="38.99" fill="#303030" stroke="#141414" stroke-width="0.45"/>
<rect x="428.28" y="233.2" width="3.07" height="75.7" fill="#303030" stroke="#141414" stroke-width="0.45"/>
<rect x="431.75" y="258.94" width="3.07" height="49.96" fill="#303030" stroke="#141414" stroke-width="0.45"/>
<rect x="435.22" y="209.35" width="3.07" height="99.55" fill="#303030" stroke="#141414" stroke-width="0.45"/>
<rect x="438.69" y="257.05" width="3.07" height="51.85" fill="#303030" stroke="#141414" stroke-width="0.45"/>
<rect x="442.17" y="260.83" width="3.07" height="48.07" fill="#303030" stroke="#141414" stroke-width="0.45"/>
<rect x="445.64" y="263.86" width="3.07" height="45.04" fill="#303030" stroke="#141414" stroke-width="0.45"/>
<rect x="449.11" y="246.83" width="3.07" height="62.07" fill="#303030" stroke="#141414" stroke-width="0.45"/>
<rect x="452.58" y="238.88" width="3.07" height="70.02" fill="#303030" stroke="#141414" stroke-width="0.45"/>
<rect x="456.05" y="251.75" width="3.07" height="57.15" fill="#303030" stroke="#141414" stroke-width="0.45"/>
<rect x="459.52" y="265.37" width="3.07" height="43.53" fill="#303030" stroke="#141414" stroke-width="0.45"/>
<rect x="463" y="253.64" width="3.07" height="55.26" fill="#303030" stroke="#141414" stroke-width="0.45"/>
<rect x="469.94" y="269.91" width="3.07" height="38.99" fill="#303030" stroke="#141414" stroke-width="0.45"/>
<rect x="473.41" y="271.05" width="3.07" height="37.85" fill="#303030" stroke="#141414" stroke-width="0.45"/>
<rect x="476.88" y="269.91" width="3.07" height="38.99" fill="#303030" stroke="#141414" stroke-width="0.45"/>
<rect x="480.35" y="269.91" width="3.07" height="38.99" fill="#303030" stroke="#141414" stroke-width="0.45"/>
<rect x="490.77" y="268.02" width="3.07" height="40.88" fill="#303030" stroke="#141414" stroke-width="0.45"/>
<rect x="494.24" y="266.13" width="3.07" height="42.77" fill="#303030" stroke="#141414" stroke-width="0.45"/>
<rect x="497.71" y="237.74" width="3.07" height="71.16" fill="#303030" stroke="#141414" stroke-width="0.45"/>
<rect x="504.66" y="268.02" width="3.07" height="40.88" fill="#303030" stroke="#141414" stroke-width="0.45"/>
<rect x="508.13" y="233.96" width="3.07" height="74.94" fill="#303030" stroke="#141414" stroke-width="0.45"/>
<rect x="303.1" y="309.3" width="208.3" height="14.8" fill="#444"/>
<rect x="303.1" y="309.3" width="3.52" height="14.8" fill="#9c9c9c"/>
<rect x="306.57" y="309.3" width="3.52" height="14.8" fill="#e2382c"/>
<rect x="310.04" y="309.3" width="3.52" height="14.8" fill="#9c9c9c"/>
<rect x="313.52" y="309.3" width="3.52" height="14.8" fill="#e2382c"/>
<rect x="316.99" y="309.3" width="3.52" height="14.8" fill="#9c9c9c"/>
<rect x="320.46" y="309.3" width="3.52" height="14.8" fill="#2b8a4a"/>
<rect x="323.93" y="309.3" width="3.52" height="14.8" fill="#2b8a4a"/>
<rect x="327.4" y="309.3" width="3.52" height="14.8" fill="#e2382c"/>
<rect x="330.87" y="309.3" width="3.52" height="14.8" fill="#e2382c"/>
<rect x="334.35" y="309.3" width="3.52" height="14.8" fill="#2b8a4a"/>
<rect x="337.82" y="309.3" width="3.52" height="14.8" fill="#2b8a4a"/>
<rect x="341.29" y="309.3" width="3.52" height="14.8" fill="#9c9c9c"/>
<rect x="344.76" y="309.3" width="3.52" height="14.8" fill="#2b8a4a"/>
<rect x="348.23" y="309.3" width="3.52" height="14.8" fill="#e2382c"/>
<rect x="351.7" y="309.3" width="3.52" height="14.8" fill="#2b8a4a"/>
<rect x="355.18" y="309.3" width="3.52" height="14.8" fill="#9c9c9c"/>
<rect x="358.65" y="309.3" width="3.52" height="14.8" fill="#2b8a4a"/>
<rect x="362.12" y="309.3" width="3.52" height="14.8" fill="#2b8a4a"/>
<rect x="365.59" y="309.3" width="3.52" height="14.8" fill="#2b8a4a"/>
<rect x="369.06" y="309.3" width="3.52" height="14.8" fill="#2b8a4a"/>
<rect x="372.53" y="309.3" width="3.52" height="14.8" fill="#9c9c9c"/>
<rect x="376" y="309.3" width="3.52" height="14.8" fill="#2b8a4a"/>
<rect x="379.48" y="309.3" width="3.52" height="14.8" fill="#9c9c9c"/>
<rect x="382.95" y="309.3" width="3.52" height="14.8" fill="#2b8a4a"/>
<rect x="386.42" y="309.3" width="3.52" height="14.8" fill="#e2382c"/>
<rect x="389.89" y="309.3" width="3.52" height="14.8" fill="#2b8a4a"/>
<rect x="393.36" y="309.3" width="3.52" height="14.8" fill="#2b8a4a"/>
<rect x="396.83" y="309.3" width="3.52" height="14.8" fill="#e2382c"/>
<rect x="400.31" y="309.3" width="3.52" height="14.8" fill="#2b8a4a"/>
<rect x="403.78" y="309.3" width="3.52" height="14.8" fill="#2b8a4a"/>
<rect x="407.25" y="309.3" width="3.52" height="14.8" fill="#e2382c"/>
<rect x="410.72" y="309.3" width="3.52" height="14.8" fill="#9c9c9c"/>
<rect x="414.19" y="309.3" width="3.52" height="14.8" fill="#2b8a4a"/>
<rect x="417.66" y="309.3" width="3.52" height="14.8" fill="#2b8a4a"/>
<rect x="421.14" y="309.3" width="3.52" height="14.8" fill="#e2382c"/>
<rect x="424.61" y="309.3" width="3.52" height="14.8" fill="#e2382c"/>
<rect x="428.08" y="309.3" width="3.52" height="14.8" fill="#e2382c"/>
<rect x="431.55" y="309.3" width="3.52" height="14.8" fill="#2b8a4a"/>
<rect x="435.02" y="309.3" width="3.52" height="14.8" fill="#e2382c"/>
<rect x="438.5" y="309.3" width="3.52" height="14.8" fill="#e2382c"/>
<rect x="441.97" y="309.3" width="3.52" height="14.8" fill="#2b8a4a"/>
<rect x="445.44" y="309.3" width="3.52" height="14.8" fill="#e2382c"/>
<rect x="448.91" y="309.3" width="3.52" height="14.8" fill="#e2382c"/>
<rect x="452.38" y="309.3" width="3.52" height="14.8" fill="#e2382c"/>
<rect x="455.85" y="309.3" width="3.52" height="14.8" fill="#2b8a4a"/>
<rect x="459.32" y="309.3" width="3.52" height="14.8" fill="#9c9c9c"/>
<rect x="462.8" y="309.3" width="3.52" height="14.8" fill="#2b8a4a"/>
<rect x="466.27" y="309.3" width="3.52" height="14.8" fill="#9c9c9c"/>
<rect x="469.74" y="309.3" width="3.52" height="14.8" fill="#2b8a4a"/>
<rect x="473.21" y="309.3" width="3.52" height="14.8" fill="#e2382c"/>
<rect x="476.68" y="309.3" width="3.52" height="14.8" fill="#e2382c"/>
<rect x="480.15" y="309.3" width="3.52" height="14.8" fill="#e2382c"/>
<rect x="483.63" y="309.3" width="3.52" height="14.8" fill="#2b8a4a"/>
<rect x="487.1" y="309.3" width="3.52" height="14.8" fill="#9c9c9c"/>
<rect x="490.57" y="309.3" width="3.52" height="14.8" fill="#2b8a4a"/>
<rect x="494.04" y="309.3" width="3.52" height="14.8" fill="#e2382c"/>
<rect x="497.51" y="309.3" width="3.52" height="14.8" fill="#e2382c"/>
<rect x="500.99" y="309.3" width="3.52" height="14.8" fill="#9c9c9c"/>
<rect x="504.46" y="309.3" width="3.52" height="14.8" fill="#e2382c"/>
<rect x="507.93" y="309.3" width="3.52" height="14.8" fill="#2b8a4a"/>
<line x1="306.57" y1="309.3" x2="306.57" y2="324.1" stroke="#000" stroke-opacity="0.3" stroke-width="0.55"/>
<line x1="310.04" y1="309.3" x2="310.04" y2="324.1" stroke="#000" stroke-opacity="0.3" stroke-width="0.55"/>
<line x1="313.52" y1="309.3" x2="313.52" y2="324.1" stroke="#000" stroke-opacity="0.3" stroke-width="0.55"/>
<line x1="316.99" y1="309.3" x2="316.99" y2="324.1" stroke="#000" stroke-opacity="0.3" stroke-width="0.55"/>
<line x1="320.46" y1="309.3" x2="320.46" y2="324.1" stroke="#000" stroke-opacity="0.3" stroke-width="0.55"/>
<line x1="323.93" y1="309.3" x2="323.93" y2="324.1" stroke="#000" stroke-opacity="0.3" stroke-width="0.55"/>
<line x1="327.4" y1="309.3" x2="327.4" y2="324.1" stroke="#000" stroke-opacity="0.3" stroke-width="0.55"/>
<line x1="330.87" y1="309.3" x2="330.87" y2="324.1" stroke="#000" stroke-opacity="0.3" stroke-width="0.55"/>
<line x1="334.35" y1="309.3" x2="334.35" y2="324.1" stroke="#000" stroke-opacity="0.3" stroke-width="0.55"/>
<line x1="337.82" y1="309.3" x2="337.82" y2="324.1" stroke="#000" stroke-opacity="0.3" stroke-width="0.55"/>
<line x1="341.29" y1="309.3" x2="341.29" y2="324.1" stroke="#000" stroke-opacity="0.3" stroke-width="0.55"/>
<line x1="344.76" y1="309.3" x2="344.76" y2="324.1" stroke="#000" stroke-opacity="0.3" stroke-width="0.55"/>
<line x1="348.23" y1="309.3" x2="348.23" y2="324.1" stroke="#000" stroke-opacity="0.3" stroke-width="0.55"/>
<line x1="351.7" y1="309.3" x2="351.7" y2="324.1" stroke="#000" stroke-opacity="0.3" stroke-width="0.55"/>
<line x1="355.18" y1="309.3" x2="355.18" y2="324.1" stroke="#000" stroke-opacity="0.3" stroke-width="0.55"/>
<line x1="358.65" y1="309.3" x2="358.65" y2="324.1" stroke="#000" stroke-opacity="0.3" stroke-width="0.55"/>
<line x1="362.12" y1="309.3" x2="362.12" y2="324.1" stroke="#000" stroke-opacity="0.3" stroke-width="0.55"/>
<line x1="365.59" y1="309.3" x2="365.59" y2="324.1" stroke="#000" stroke-opacity="0.3" stroke-width="0.55"/>
<line x1="369.06" y1="309.3" x2="369.06" y2="324.1" stroke="#000" stroke-opacity="0.3" stroke-width="0.55"/>
<line x1="372.53" y1="309.3" x2="372.53" y2="324.1" stroke="#000" stroke-opacity="0.3" stroke-width="0.55"/>
<line x1="376" y1="309.3" x2="376" y2="324.1" stroke="#000" stroke-opacity="0.3" stroke-width="0.55"/>
<line x1="379.48" y1="309.3" x2="379.48" y2="324.1" stroke="#000" stroke-opacity="0.3" stroke-width="0.55"/>
<line x1="382.95" y1="309.3" x2="382.95" y2="324.1" stroke="#000" stroke-opacity="0.3" stroke-width="0.55"/>
<line x1="386.42" y1="309.3" x2="386.42" y2="324.1" stroke="#000" stroke-opacity="0.3" stroke-width="0.55"/>
<line x1="389.89" y1="309.3" x2="389.89" y2="324.1" stroke="#000" stroke-opacity="0.3" stroke-width="0.55"/>
<line x1="393.36" y1="309.3" x2="393.36" y2="324.1" stroke="#000" stroke-opacity="0.3" stroke-width="0.55"/>
<line x1="396.83" y1="309.3" x2="396.83" y2="324.1" stroke="#000" stroke-opacity="0.3" stroke-width="0.55"/>
<line x1="400.31" y1="309.3" x2="400.31" y2="324.1" stroke="#000" stroke-opacity="0.3" stroke-width="0.55"/>
<line x1="403.78" y1="309.3" x2="403.78" y2="324.1" stroke="#000" stroke-opacity="0.3" stroke-width="0.55"/>
<line x1="407.25" y1="309.3" x2="407.25" y2="324.1" stroke="#000" stroke-opacity="0.3" stroke-width="0.55"/>
<line x1="410.72" y1="309.3" x2="410.72" y2="324.1" stroke="#000" stroke-opacity="0.3" stroke-width="0.55"/>
<line x1="414.19" y1="309.3" x2="414.19" y2="324.1" stroke="#000" stroke-opacity="0.3" stroke-width="0.55"/>
<line x1="417.66" y1="309.3" x2="417.66" y2="324.1" stroke="#000" stroke-opacity="0.3" stroke-width="0.55"/>
<line x1="421.14" y1="309.3" x2="421.14" y2="324.1" stroke="#000" stroke-opacity="0.3" stroke-width="0.55"/>
<line x1="424.61" y1="309.3" x2="424.61" y2="324.1" stroke="#000" stroke-opacity="0.3" stroke-width="0.55"/>
<line x1="428.08" y1="309.3" x2="428.08" y2="324.1" stroke="#000" stroke-opacity="0.3" stroke-width="0.55"/>
<line x1="431.55" y1="309.3" x2="431.55" y2="324.1" stroke="#000" stroke-opacity="0.3" stroke-width="0.55"/>
<line x1="435.02" y1="309.3" x2="435.02" y2="324.1" stroke="#000" stroke-opacity="0.3" stroke-width="0.55"/>
<line x1="438.5" y1="309.3" x2="438.5" y2="324.1" stroke="#000" stroke-opacity="0.3" stroke-width="0.55"/>
<line x1="441.97" y1="309.3" x2="441.97" y2="324.1" stroke="#000" stroke-opacity="0.3" stroke-width="0.55"/>
<line x1="445.44" y1="309.3" x2="445.44" y2="324.1" stroke="#000" stroke-opacity="0.3" stroke-width="0.55"/>
<line x1="448.91" y1="309.3" x2="448.91" y2="324.1" stroke="#000" stroke-opacity="0.3" stroke-width="0.55"/>
<line x1="452.38" y1="309.3" x2="452.38" y2="324.1" stroke="#000" stroke-opacity="0.3" stroke-width="0.55"/>
<line x1="455.85" y1="309.3" x2="455.85" y2="324.1" stroke="#000" stroke-opacity="0.3" stroke-width="0.55"/>
<line x1="459.32" y1="309.3" x2="459.32" y2="324.1" stroke="#000" stroke-opacity="0.3" stroke-width="0.55"/>
<line x1="462.8" y1="309.3" x2="462.8" y2="324.1" stroke="#000" stroke-opacity="0.3" stroke-width="0.55"/>
<line x1="466.27" y1="309.3" x2="466.27" y2="324.1" stroke="#000" stroke-opacity="0.3" stroke-width="0.55"/>
<line x1="469.74" y1="309.3" x2="469.74" y2="324.1" stroke="#000" stroke-opacity="0.3" stroke-width="0.55"/>
<line x1="473.21" y1="309.3" x2="473.21" y2="324.1" stroke="#000" stroke-opacity="0.3" stroke-width="0.55"/>
<line x1="476.68" y1="309.3" x2="476.68" y2="324.1" stroke="#000" stroke-opacity="0.3" stroke-width="0.55"/>
<line x1="480.15" y1="309.3" x2="480.15" y2="324.1" stroke="#000" stroke-opacity="0.3" stroke-width="0.55"/>
<line x1="483.63" y1="309.3" x2="483.63" y2="324.1" stroke="#000" stroke-opacity="0.3" stroke-width="0.55"/>
<line x1="487.1" y1="309.3" x2="487.1" y2="324.1" stroke="#000" stroke-opacity="0.3" stroke-width="0.55"/>
<line x1="490.57" y1="309.3" x2="490.57" y2="324.1" stroke="#000" stroke-opacity="0.3" stroke-width="0.55"/>
<line x1="494.04" y1="309.3" x2="494.04" y2="324.1" stroke="#000" stroke-opacity="0.3" stroke-width="0.55"/>
<line x1="497.51" y1="309.3" x2="497.51" y2="324.1" stroke="#000" stroke-opacity="0.3" stroke-width="0.55"/>
<line x1="500.99" y1="309.3" x2="500.99" y2="324.1" stroke="#000" stroke-opacity="0.3" stroke-width="0.55"/>
<line x1="504.46" y1="309.3" x2="504.46" y2="324.1" stroke="#000" stroke-opacity="0.3" stroke-width="0.55"/>
<line x1="507.93" y1="309.3" x2="507.93" y2="324.1" stroke="#000" stroke-opacity="0.3" stroke-width="0.55"/>
<line x1="302.7" y1="194" x2="302.7" y2="308.9" stroke="#9a9a9a" stroke-width="1.4"/>
<line x1="300.7" y1="309" x2="302.7" y2="309" stroke="#7a7a7a" stroke-width="0.9"/>
<line x1="300.7" y1="271.4" x2="302.7" y2="271.4" stroke="#7a7a7a" stroke-width="0.9"/>
<line x1="300.7" y1="233.7" x2="302.7" y2="233.7" stroke="#7a7a7a" stroke-width="0.9"/>
<line x1="300.7" y1="194" x2="302.7" y2="194" stroke="#7a7a7a" stroke-width="0.9"/>
<text x="298.9" y="197.6" text-anchor="end">300</text>
<text x="298.9" y="237.4" text-anchor="end">200</text>
<text x="298.9" y="277" text-anchor="end">100</text>
<text x="298.4" y="311.8" text-anchor="end">0</text>
<line x1="301.2" y1="308.9" x2="514.2" y2="308.9" stroke="#111" stroke-width="1.2"/>
<text x="298.3" y="321.6" text-anchor="end">ERBB3</text>
<text x="298.3" y="332.4" text-anchor="end">qRT-PCR</text>
<rect x="76.9" y="330.5" width="3.1" height="6.2" fill="#e2382c"/>
<text x="83.2" y="336.5">≥ Median</text>
<rect x="132.1" y="330.5" width="3.1" height="6.2" fill="#2b8a4a"/>
<text x="136.7" y="336.5">&lt; Median</text>
<rect x="186.2" y="330.5" width="3.1" height="6.2" fill="#9c9c9c"/>
<text x="190.8" y="336.5">No data</text>
<rect x="334" y="328.4" width="3.1" height="6.2" fill="#e2382c"/>
<text x="340.3" y="334.4">≥ Median</text>
<rect x="389.2" y="328.4" width="3.1" height="6.2" fill="#2b8a4a"/>
<text x="393.8" y="334.4">&lt; Median</text>
<rect x="443.3" y="328.4" width="3.1" height="6.2" fill="#9c9c9c"/>
<text x="447.9" y="334.4">No data</text>
<line x1="45" y1="361.7" x2="45" y2="465.9" stroke="#7a7a7a" stroke-width="1.1"/>
<line x1="44.5" y1="465.9" x2="256.5" y2="465.9" stroke="#7a7a7a" stroke-width="1.1"/>
<line x1="43.2" y1="465.9" x2="45" y2="465.9" stroke="#7a7a7a" stroke-width="0.9"/>
<text x="33.9" y="469.3" text-anchor="middle" font-size="8.6">0</text>
<line x1="43.2" y1="445.16" x2="45" y2="445.16" stroke="#7a7a7a" stroke-width="0.9"/>
<text x="33.9" y="448.56" text-anchor="middle" font-size="8.6">20</text>
<line x1="43.2" y1="424.42" x2="45" y2="424.42" stroke="#7a7a7a" stroke-width="0.9"/>
<text x="33.9" y="427.82" text-anchor="middle" font-size="8.6">40</text>
<line x1="43.2" y1="403.68" x2="45" y2="403.68" stroke="#7a7a7a" stroke-width="0.9"/>
<text x="33.9" y="407.08" text-anchor="middle" font-size="8.6">60</text>
<line x1="43.2" y1="382.94" x2="45" y2="382.94" stroke="#7a7a7a" stroke-width="0.9"/>
<text x="33.9" y="386.34" text-anchor="middle" font-size="8.6">80</text>
<line x1="43.2" y1="362.2" x2="45" y2="362.2" stroke="#7a7a7a" stroke-width="0.9"/>
<text x="33.9" y="365.6" text-anchor="middle" font-size="8.6">100</text>
<line x1="45" y1="465.9" x2="45" y2="467.7" stroke="#7a7a7a" stroke-width="0.9"/>
<text x="45" y="476.8" text-anchor="middle" font-size="8.6">0</text>
<line x1="87.2" y1="465.9" x2="87.2" y2="467.7" stroke="#7a7a7a" stroke-width="0.9"/>
<text x="87.6" y="476.8" text-anchor="middle" font-size="8.6">5</text>
<line x1="129.4" y1="465.9" x2="129.4" y2="467.7" stroke="#7a7a7a" stroke-width="0.9"/>
<text x="131.4" y="476.8" text-anchor="middle" font-size="8.6">10</text>
<line x1="171.6" y1="465.9" x2="171.6" y2="467.7" stroke="#7a7a7a" stroke-width="0.9"/>
<text x="172.2" y="476.8" text-anchor="middle" font-size="8.6">15</text>
<line x1="213.8" y1="465.9" x2="213.8" y2="467.7" stroke="#7a7a7a" stroke-width="0.9"/>
<text x="213.9" y="476.8" text-anchor="middle" font-size="8.6">20</text>
<line x1="256" y1="465.9" x2="256" y2="467.7" stroke="#7a7a7a" stroke-width="0.9"/>
<text x="257.5" y="476.8" text-anchor="middle" font-size="8.6">25</text>
<text x="154.7" y="485.9" text-anchor="middle">Time (months)</text>
<text transform="translate(21.4,407.4) rotate(-90)" text-anchor="middle">Survival</text>
<text x="101.6" y="364.2" font-size="8.93">Duligotuzumab + FOLFIRI IHC</text>
<path d="M45,362.2 L48.38,362.2 L48.38,372.57 L76.65,372.57 L76.65,394.87 L88.89,394.87 L88.89,405.96 L108.3,405.96 L108.3,418.41 L109.57,418.41 L109.57,429.29 L114.21,429.29 L114.21,441.01 L124.76,441.01 L124.76,452.73 L137.84,452.73" fill="none" stroke="#7a8299" stroke-width="1.1"/>
<path d="M45,362.2 L61.88,362.2 L61.88,393.31 L77.07,393.31 L77.07,402.02 L88.89,402.02 L88.89,405.96 L110.33,405.96 L110.33,432.4 L138.68,432.4 L138.68,443.29 L153.88,443.29 L153.88,455.01 L179.2,455.01 L179.2,463.83" fill="none" stroke="#e08088" stroke-width="0.9" stroke-dasharray="2.2,0.8,0.7,0.8"/>
<path d="M45,362.2 L54.28,362.2 L54.28,371.53 L67.37,371.53 L67.37,382.94 L76.23,382.94 L76.23,394.87 L91.84,394.87 L91.84,405.96 L110.33,405.96 L110.33,418.41 L140.37,418.41 L140.37,433.13 L146.28,433.13 L146.28,465.9" fill="none" stroke="#333333" stroke-width="1" stroke-dasharray="2,1.5"/>
<path d="M45,362.2 L52.6,362.2 L52.6,369.46 L61.88,369.46 L61.88,382.94 L77.07,382.94 L77.07,394.87 L93.95,394.87 L93.95,412.08 L104.08,412.08 L104.08,421.41 L122.65,421.41 L122.65,455.01 L214.64,455.01 L214.64,463.83" fill="none" stroke="#5fa07a" stroke-width="1" stroke-dasharray="2,1.5"/>
<line x1="176.6" y1="379.8" x2="197.4" y2="379.8" stroke="#565e82" stroke-width="1.3"/>
<line x1="177.5" y1="386.7" x2="197.4" y2="386.7" stroke="#c4566a" stroke-width="1.1" stroke-dasharray="2.7,1.3,1,1.4"/>
<line x1="177.2" y1="393.6" x2="195.3" y2="393.6" stroke="#1a1a1a" stroke-width="1.3" stroke-dasharray="4.3,2.6"/>
<line x1="177.2" y1="400.7" x2="195.3" y2="400.7" stroke="#3f8a5c" stroke-width="1.3" stroke-dasharray="4.3,2.6"/>
<text x="206.4" y="381.6">≤25 (<tspan font-style="italic">n</tspan> = 11)</text>
<text x="206.4" y="392">&gt;25 (<tspan font-style="italic">n</tspan> = 14)</text>
<text x="206.4" y="402.4">&gt;50 (<tspan font-style="italic">n</tspan> = 11)</text>
<text x="206.4" y="412.6">&gt;75 (<tspan font-style="italic">n</tspan> = 15)</text>
<text x="206.4" y="423.4">Censored</text>
<path d="M187.2,420.6 H192 M189.6,418.4 V422.8" stroke="#2a2a2a" stroke-width="1.1" fill="none"/>
<line x1="303.5" y1="359.6" x2="303.5" y2="463.9" stroke="#7a7a7a" stroke-width="1.1"/>
<line x1="303" y1="463.9" x2="515.5" y2="463.9" stroke="#7a7a7a" stroke-width="1.1"/>
<line x1="301.7" y1="463.9" x2="303.5" y2="463.9" stroke="#7a7a7a" stroke-width="0.9"/>
<text x="291.2" y="467.3" text-anchor="middle" font-size="8.6">0</text>
<line x1="301.7" y1="443.14" x2="303.5" y2="443.14" stroke="#7a7a7a" stroke-width="0.9"/>
<text x="291.2" y="446.54" text-anchor="middle" font-size="8.6">20</text>
<line x1="301.7" y1="422.38" x2="303.5" y2="422.38" stroke="#7a7a7a" stroke-width="0.9"/>
<text x="291.2" y="425.78" text-anchor="middle" font-size="8.6">40</text>
<line x1="301.7" y1="401.62" x2="303.5" y2="401.62" stroke="#7a7a7a" stroke-width="0.9"/>
<text x="291.2" y="405.02" text-anchor="middle" font-size="8.6">60</text>
<line x1="301.7" y1="380.86" x2="303.5" y2="380.86" stroke="#7a7a7a" stroke-width="0.9"/>
<text x="291.2" y="384.26" text-anchor="middle" font-size="8.6">80</text>
<line x1="301.7" y1="360.1" x2="303.5" y2="360.1" stroke="#7a7a7a" stroke-width="0.9"/>
<text x="291.2" y="363.5" text-anchor="middle" font-size="8.6">100</text>
<line x1="303.5" y1="463.9" x2="303.5" y2="465.7" stroke="#7a7a7a" stroke-width="0.9"/>
<text x="302.8" y="473.6" text-anchor="middle" font-size="8.6">0</text>
<line x1="345.8" y1="463.9" x2="345.8" y2="465.7" stroke="#7a7a7a" stroke-width="0.9"/>
<text x="345.1" y="473.6" text-anchor="middle" font-size="8.6">5</text>
<line x1="388.1" y1="463.9" x2="388.1" y2="465.7" stroke="#7a7a7a" stroke-width="0.9"/>
<text x="389.1" y="473.6" text-anchor="middle" font-size="8.6">10</text>
<line x1="430.4" y1="463.9" x2="430.4" y2="465.7" stroke="#7a7a7a" stroke-width="0.9"/>
<text x="429.5" y="473.6" text-anchor="middle" font-size="8.6">15</text>
<line x1="472.7" y1="463.9" x2="472.7" y2="465.7" stroke="#7a7a7a" stroke-width="0.9"/>
<text x="472.4" y="473.6" text-anchor="middle" font-size="8.6">20</text>
<line x1="515" y1="463.9" x2="515" y2="465.7" stroke="#7a7a7a" stroke-width="0.9"/>
<text x="514.7" y="473.6" text-anchor="middle" font-size="8.6">25</text>
<text x="412" y="484.1" text-anchor="middle">Time (months)</text>
<text transform="translate(278.7,406) rotate(-90)" text-anchor="middle">Survival</text>
<text x="365.7" y="362.5" font-size="8.93">Cetuximab + FOLFIRI IHC</text>
<path d="M304.6,360.1 L320.98,360.1 L320.98,368.4 L331.31,368.4 L331.31,375.98 L335.68,375.98 L335.68,388.13 L338.2,388.13 L338.2,399.23 L351.22,399.23 L351.22,416.15 L373.82,416.15 L373.82,422.9 L394.48,422.9 L394.48,430.48 L465.04,430.48" fill="none" stroke="#7a8299" stroke-width="1.1"/>
<path d="M304.6,360.1 L328.37,360.1 L328.37,372.87 L351.89,372.87 L351.89,402.66 L366.34,402.66 L366.34,417.4 L404.56,417.4 L404.56,431.72 L442.36,431.72 L442.36,446.25 L457.48,446.25" fill="none" stroke="#e08088" stroke-width="0.9" stroke-dasharray="2.2,0.8,0.7,0.8"/>
<path d="M304.6,360.1 L323.92,360.1 L323.92,367.99 L336.52,367.99 L336.52,376.71 L340.72,376.71 L340.72,382.94 L343.24,382.94 L343.24,390.2 L345.76,390.2 L345.76,396.43 L351.22,396.43 L351.22,416.88 L366.34,416.88 L366.34,432.97 L369.62,432.97 L369.62,444.59 L391.12,444.59 L391.12,453.1 L429.76,453.1 L429.76,463.9" fill="none" stroke="#333333" stroke-width="1" stroke-dasharray="2,1.5"/>
<path d="M304.6,360.1 L321.4,360.1 L321.4,389.06 L334.84,389.06 L334.84,403.9 L349.96,403.9 L349.96,432.97 L399.52,432.97 L399.52,447.08 L457.48,447.08" fill="none" stroke="#5fa07a" stroke-width="1" stroke-dasharray="2,1.5"/>
<line x1="435.8" y1="377.3" x2="455.8" y2="377.3" stroke="#565e82" stroke-width="1.3"/>
<line x1="436.7" y1="384.7" x2="455.8" y2="384.7" stroke="#c4566a" stroke-width="1.1" stroke-dasharray="2.7,1.3,1,1.4"/>
<line x1="436.4" y1="391.2" x2="454.5" y2="391.2" stroke="#1a1a1a" stroke-width="1.3" stroke-dasharray="4.3,2.6"/>
<line x1="436.4" y1="398.5" x2="454.5" y2="398.5" stroke="#3f8a5c" stroke-width="1.3" stroke-dasharray="4.3,2.6"/>
<text x="465.1" y="379.4">≤25 (<tspan font-style="italic">n</tspan> = 14)</text>
<text x="465.1" y="389.8">&gt;25 (<tspan font-style="italic">n</tspan> = 8)</text>
<text x="465.1" y="400.1">&gt;50 (<tspan font-style="italic">n</tspan> = 13)</text>
<text x="465.1" y="410.2">&gt;75 (<tspan font-style="italic">n</tspan> = 7)</text>
<text x="465.1" y="421.6">Censored</text>
<path d="M446.1,418.8 H450.9 M448.5,416.6 V421" stroke="#2a2a2a" stroke-width="1.1" fill="none"/>
<line x1="44.2" y1="501.8" x2="44.2" y2="605.7" stroke="#7a7a7a" stroke-width="1.1"/>
<line x1="43.7" y1="605.7" x2="255.6" y2="605.7" stroke="#7a7a7a" stroke-width="1.1"/>
<line x1="42.4" y1="605.7" x2="44.2" y2="605.7" stroke="#7a7a7a" stroke-width="0.9"/>
<text x="33" y="609.1" text-anchor="middle" font-size="8.6">0</text>
<line x1="42.4" y1="585.02" x2="44.2" y2="585.02" stroke="#7a7a7a" stroke-width="0.9"/>
<text x="33" y="588.42" text-anchor="middle" font-size="8.6">20</text>
<line x1="42.4" y1="564.34" x2="44.2" y2="564.34" stroke="#7a7a7a" stroke-width="0.9"/>
<text x="33" y="567.74" text-anchor="middle" font-size="8.6">40</text>
<line x1="42.4" y1="543.66" x2="44.2" y2="543.66" stroke="#7a7a7a" stroke-width="0.9"/>
<text x="33" y="547.06" text-anchor="middle" font-size="8.6">60</text>
<line x1="42.4" y1="522.98" x2="44.2" y2="522.98" stroke="#7a7a7a" stroke-width="0.9"/>
<text x="33" y="526.38" text-anchor="middle" font-size="8.6">80</text>
<line x1="42.4" y1="502.3" x2="44.2" y2="502.3" stroke="#7a7a7a" stroke-width="0.9"/>
<text x="33" y="505.7" text-anchor="middle" font-size="8.6">100</text>
<line x1="44.2" y1="605.7" x2="44.2" y2="607.5" stroke="#7a7a7a" stroke-width="0.9"/>
<text x="44.2" y="617" text-anchor="middle" font-size="8.6">0</text>
<line x1="86.38" y1="605.7" x2="86.38" y2="607.5" stroke="#7a7a7a" stroke-width="0.9"/>
<text x="87" y="617" text-anchor="middle" font-size="8.6">5</text>
<line x1="128.56" y1="605.7" x2="128.56" y2="607.5" stroke="#7a7a7a" stroke-width="0.9"/>
<text x="131" y="617" text-anchor="middle" font-size="8.6">10</text>
<line x1="170.74" y1="605.7" x2="170.74" y2="607.5" stroke="#7a7a7a" stroke-width="0.9"/>
<text x="171.2" y="617" text-anchor="middle" font-size="8.6">15</text>
<line x1="212.92" y1="605.7" x2="212.92" y2="607.5" stroke="#7a7a7a" stroke-width="0.9"/>
<text x="213.5" y="617" text-anchor="middle" font-size="8.6">20</text>
<line x1="255.1" y1="605.7" x2="255.1" y2="607.5" stroke="#7a7a7a" stroke-width="0.9"/>
<text x="256.6" y="617" text-anchor="middle" font-size="8.6">25</text>
<text x="154.3" y="627.8" text-anchor="middle">Time (months)</text>
<text transform="translate(20.7,547.1) rotate(-90)" text-anchor="middle">Survival</text>
<text x="85.5" y="503.8" font-size="8.93">Duligotuzumab + FOLFIRI qRT-PCR</text>
<path d="M44.2,503.75 L54.07,503.75 L54.07,511.2 L61.49,511.2 L61.49,527.72 L77.1,527.72 L77.1,545.57 L78.37,545.57 L78.37,552.91 L87.81,552.91 L87.81,563.93 L90.6,563.93 L90.6,574.13 L93.13,574.13 L93.13,583.31 L114.22,583.31 L114.22,594.02 L138.26,594.02" fill="none" stroke="#7a8299" stroke-width="1.1"/>
<path d="M44.2,503.75 L48.08,503.75 L48.08,513.85 L52.8,513.85 L52.8,523.95 L77.1,523.95 L77.1,546.08 L109.16,546.08 L109.16,570.56 L123.92,570.56 L123.92,604.22" fill="none" stroke="#e08088" stroke-width="0.9" stroke-dasharray="2.2,0.8,0.7,0.8"/>
<path d="M44.2,503.75 L61.49,503.75 L61.49,527.72 L77.52,527.72 L77.52,537.41 L107.05,537.41 L107.05,547.61 L110,547.61 L110,560.16 L123.25,560.16 L123.25,570.56 L145.43,570.56 L145.43,586.37 L215.45,586.37 L215.45,604.22" fill="none" stroke="#333333" stroke-width="1" stroke-dasharray="2,1.5"/>
<path d="M44.2,503.75 L61.49,503.75 L61.49,511.2 L67.57,511.2 L67.57,517.21 L78.96,517.21 L78.96,523.95 L91.1,523.95 L91.1,531.29 L94.48,531.29 L94.48,538.12 L103.25,538.12 L103.25,547.61 L110,547.61 L110,554.24 L123.5,554.24 L123.5,568.62 L139.53,568.62 L139.53,586.37 L153.02,586.37 L153.02,595.35 L179.18,595.35 L179.18,604.22" fill="none" stroke="#5fa07a" stroke-width="1" stroke-dasharray="2,1.5"/>
<line x1="176.3" y1="519.8" x2="196.2" y2="519.8" stroke="#565e82" stroke-width="1.3"/>
<line x1="177.2" y1="526.2" x2="196.2" y2="526.2" stroke="#c4566a" stroke-width="1.1" stroke-dasharray="2.7,1.3,1,1.4"/>
<line x1="176.9" y1="533.3" x2="195" y2="533.3" stroke="#1a1a1a" stroke-width="1.3" stroke-dasharray="4.3,2.6"/>
<line x1="176.9" y1="541" x2="195" y2="541" stroke="#3f8a5c" stroke-width="1.3" stroke-dasharray="4.3,2.6"/>
<text x="205.6" y="521.8">≤25 (<tspan font-style="italic">n</tspan> = 13)</text>
<text x="205.6" y="532.1">&gt;25 (<tspan font-style="italic">n</tspan> = 12)</text>
<text x="205.6" y="542.6">&gt;50 (<tspan font-style="italic">n</tspan> = 12)</text>
<text x="205.6" y="553">&gt;75 (<tspan font-style="italic">n</tspan> = 16)</text>
<text x="205.6" y="563.9">Censored</text>
<path d="M186.4,560.8 H191.2 M188.8,558.6 V563" stroke="#2a2a2a" stroke-width="1.1" fill="none"/>
<line x1="303" y1="499.5" x2="303" y2="603.8" stroke="#7a7a7a" stroke-width="1.1"/>
<line x1="302.5" y1="603.8" x2="514.6" y2="603.8" stroke="#7a7a7a" stroke-width="1.1"/>
<line x1="301.2" y1="603.8" x2="303" y2="603.8" stroke="#7a7a7a" stroke-width="0.9"/>
<text x="290.7" y="607.2" text-anchor="middle" font-size="8.6">0</text>
<line x1="301.2" y1="583.04" x2="303" y2="583.04" stroke="#7a7a7a" stroke-width="0.9"/>
<text x="290.7" y="586.44" text-anchor="middle" font-size="8.6">20</text>
<line x1="301.2" y1="562.28" x2="303" y2="562.28" stroke="#7a7a7a" stroke-width="0.9"/>
<text x="290.7" y="565.68" text-anchor="middle" font-size="8.6">40</text>
<line x1="301.2" y1="541.52" x2="303" y2="541.52" stroke="#7a7a7a" stroke-width="0.9"/>
<text x="290.7" y="544.92" text-anchor="middle" font-size="8.6">60</text>
<line x1="301.2" y1="520.76" x2="303" y2="520.76" stroke="#7a7a7a" stroke-width="0.9"/>
<text x="290.7" y="524.16" text-anchor="middle" font-size="8.6">80</text>
<line x1="301.2" y1="500" x2="303" y2="500" stroke="#7a7a7a" stroke-width="0.9"/>
<text x="290.7" y="503.4" text-anchor="middle" font-size="8.6">100</text>
<line x1="303" y1="603.8" x2="303" y2="605.6" stroke="#7a7a7a" stroke-width="0.9"/>
<text x="303" y="615.7" text-anchor="middle" font-size="8.6">0</text>
<line x1="345.22" y1="603.8" x2="345.22" y2="605.6" stroke="#7a7a7a" stroke-width="0.9"/>
<text x="345.1" y="615.7" text-anchor="middle" font-size="8.6">5</text>
<line x1="387.44" y1="603.8" x2="387.44" y2="605.6" stroke="#7a7a7a" stroke-width="0.9"/>
<text x="389.1" y="615.7" text-anchor="middle" font-size="8.6">10</text>
<line x1="429.66" y1="603.8" x2="429.66" y2="605.6" stroke="#7a7a7a" stroke-width="0.9"/>
<text x="429.5" y="615.7" text-anchor="middle" font-size="8.6">15</text>
<line x1="471.88" y1="603.8" x2="471.88" y2="605.6" stroke="#7a7a7a" stroke-width="0.9"/>
<text x="471.3" y="615.7" text-anchor="middle" font-size="8.6">20</text>
<line x1="514.1" y1="603.8" x2="514.1" y2="605.6" stroke="#7a7a7a" stroke-width="0.9"/>
<text x="514.7" y="615.7" text-anchor="middle" font-size="8.6">25</text>
<text x="412" y="626.1" text-anchor="middle">Time (months)</text>
<text transform="translate(278,546.1) rotate(-90)" text-anchor="middle">Survival</text>
<text x="349.1" y="502.3" font-size="8.93">Cetuximab + FOLFIRI qRT-PCR</text>
<path d="M303,501.2 L319.89,501.2 L319.89,510.43 L328.16,510.43 L328.16,519.98 L336.44,519.98 L336.44,528.7 L351.47,528.7 L351.47,553.01 L366.58,553.01 L366.58,565.53 L392.93,565.53 L392.93,578.05 L400.53,578.05 L400.53,590.05 L411.93,590.05" fill="none" stroke="#7a8299" stroke-width="1.1"/>
<path d="M303,501.2 L319.89,501.2 L319.89,511.46 L335.09,511.46 L335.09,535.06 L336.78,535.06 L336.78,546.34 L341.42,546.34 L341.42,554.55 L345.22,554.55 L345.22,564.81 L350.29,564.81 L350.29,576.1 L352.23,576.1 L352.23,583.79 L384.06,583.79 L384.06,593.03 L430.17,593.03 L430.17,603.8" fill="none" stroke="#e08088" stroke-width="0.9" stroke-dasharray="2.2,0.8,0.7,0.8"/>
<path d="M303,501.2 L322.42,501.2 L322.42,509.41 L333.4,509.41 L333.4,518.64 L336.78,518.64 L336.78,528.7 L351.47,528.7 L351.47,543.78 L367.85,543.78 L367.85,559.99 L373.09,559.99 L373.09,566.25 L405.17,566.25 L405.17,579.48 L442.33,579.48 L442.33,603.8" fill="none" stroke="#333333" stroke-width="1" stroke-dasharray="2,1.5"/>
<path d="M303,501.2 L319.89,501.2 L319.89,516.18 L350.29,516.18 L350.29,559.48 L392.93,559.48 L392.93,573.74 L465.97,573.74" fill="none" stroke="#5fa07a" stroke-width="1" stroke-dasharray="2,1.5"/>
<line x1="434.6" y1="518.2" x2="455.4" y2="518.2" stroke="#565e82" stroke-width="1.3"/>
<line x1="435.5" y1="525" x2="455.4" y2="525" stroke="#c4566a" stroke-width="1.1" stroke-dasharray="2.7,1.3,1,1.4"/>
<line x1="435.2" y1="532.2" x2="453.3" y2="532.2" stroke="#1a1a1a" stroke-width="1.3" stroke-dasharray="4.3,2.6"/>
<line x1="435.2" y1="538.9" x2="453.3" y2="538.9" stroke="#3f8a5c" stroke-width="1.3" stroke-dasharray="4.3,2.6"/>
<text x="464.2" y="519.1">≤25 (<tspan font-style="italic">n</tspan> = 11)</text>
<text x="464.2" y="529.7">&gt;25 (<tspan font-style="italic">n</tspan> = 12)</text>
<text x="464.2" y="539.9">&gt;50 (<tspan font-style="italic">n</tspan> = 12)</text>
<text x="464.2" y="550.1">&gt;75 (<tspan font-style="italic">n</tspan> = 8)</text>
<text x="464.2" y="562">Censored</text>
<path d="M444.9,559.2 H449.7 M447.3,557 V561.4" stroke="#2a2a2a" stroke-width="1.1" fill="none"/>
</svg></body></html>
